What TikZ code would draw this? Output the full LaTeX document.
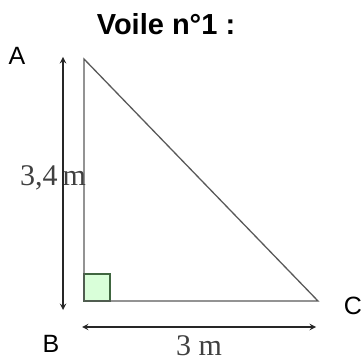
\documentclass[tikz,border=0pt]{standalone}
\usepackage{fontspec}
\setmainfont{Liberation Sans}
\newfontfamily\mesfont{Liberation Serif}
\usetikzlibrary{arrows,positioning,calc}

\begin{document}
\begin{tikzpicture}[
  x=1pt, y=-1pt,
  vertex/.style={font=\fontsize{25}{25}\selectfont, inner sep=0pt},
  side/.style={draw=black!65, line width=1.3pt},
  dim/.style={<->, >=stealth, line width=1.8pt, draw=black!85},
  measure/.style={font=\mesfont\fontsize{30}{30}\selectfont, text=black!75, inner sep=0pt}
]
\useasboundingbox (0,0) rectangle (364,363);

% Title
\node[font=\bfseries\fontsize{29}{29}\selectfont, inner sep=0pt] (title) at (166,24) {Voile n°1 :};

% Vertices of the sail
\coordinate (A) at (84,59);
\coordinate (B) at (84,301);
\coordinate (C) at (318,301);

% Right angle mark
\draw[fill=green!15, draw=green!20!black!75, line width=1.2pt] (B) rectangle ($(B)+(26,-27)$);

% Triangle
\draw[side] (A) -- (B) -- (C) -- cycle;

% Vertex labels
\node[vertex] (lA) at (17,56) {A};
\node[vertex] (lB) at (51,344) {B};
\node[vertex] (lC) at (353,306) {C};

% Measurements
\node[measure] (h) at (53,178) {3,4\,m};
\node[measure] (w) at (199,346) {3 m};

% Dimension arrows
\coordinate (dTop) at (63,57);
\coordinate (dBot) at (63,310);
\coordinate (dLeft) at (82,327);
\coordinate (dRight) at (316,327);
\draw[dim] (dTop) -- (dBot);
\draw[dim] (dLeft) -- (dRight);

\end{tikzpicture}
\end{document}
